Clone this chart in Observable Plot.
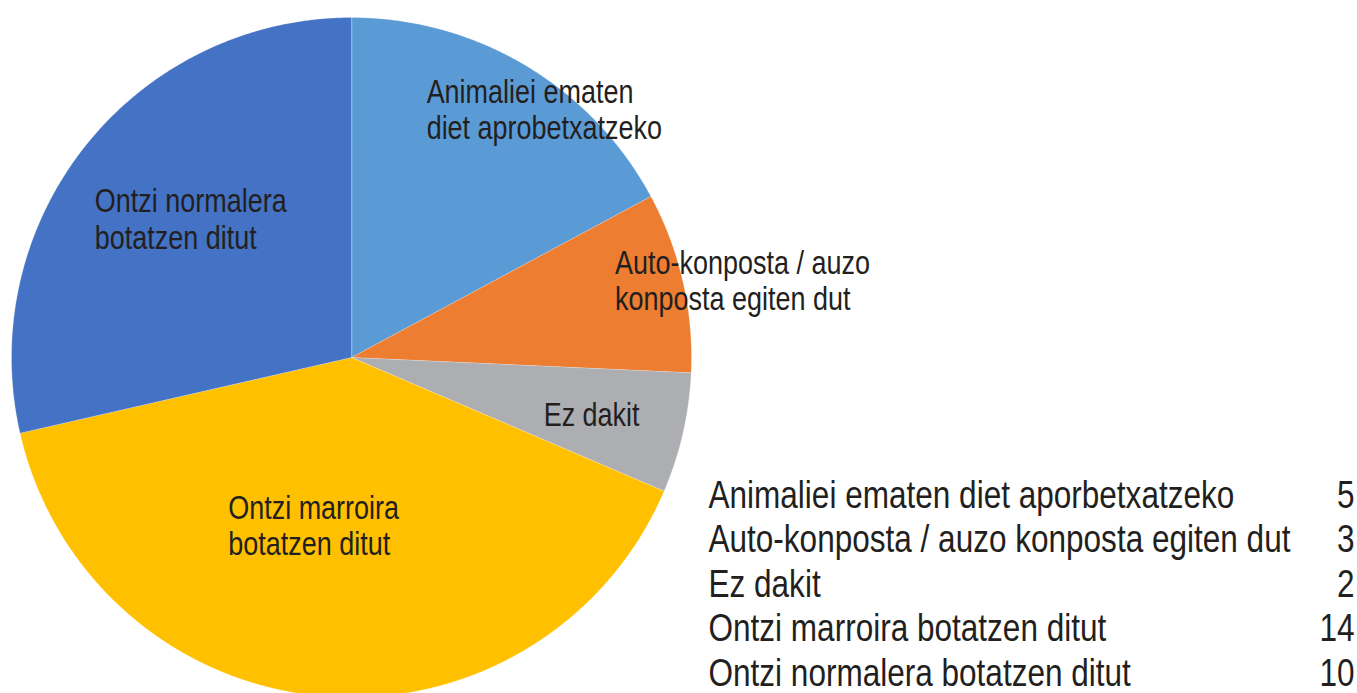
<!DOCTYPE html>
<html>
<head>
<meta charset="utf-8">
<script src="https://cdn.jsdelivr.net/npm/d3@7"></script>
<script src="https://cdn.jsdelivr.net/npm/@observablehq/plot@0.6"></script>
<style>
  html, body { margin: 0; padding: 0; background: #ffffff; overflow: hidden; }
  #chart svg { display: block; }
</style>
</head>
<body>
<div id="chart"></div>
<script>
// ---- data ----
const categories = [
  "Animaliei ematen diet aporbetxatzeko",
  "Auto-konposta / auzo konposta egiten dut",
  "Ez dakit",
  "Ontzi marroira botatzen ditut",
  "Ontzi normalera botatzen ditut"
];
// slice sizes
const values = [6, 3, 2, 14, 10];
// values as printed in the table at the bottom right
const legendValues = ["5", "3", "2", "14", "10"];
// in-slice label text (two lines where wrapped)
const sliceLabels = [
  "Animaliei ematen\ndiet aprobetxatzeko",
  "Auto-konposta / auzo\nkonposta egiten dut",
  "Ez dakit",
  "Ontzi marroira\nbotatzen ditut",
  "Ontzi normalera\nbotatzen ditut"
];
const colors = ["#5B9BD5", "#ED7D31", "#ACAEB1", "#FFC000", "#4472C4"];

// ---- layout (not data) ----
const cx = 351, cy = 357, R = 340;
// label placement: radius fraction and angular nudge (degrees) from slice mid-angle
const labelR = [0.762, 0.808, 0.589, 0.612, 0.858];
const labelNudge = [-14.0, -3.5, 3.5, 31.2, -10.2];
const legendX = 1.05, legendValueX = 2.95, legendY0 = (cy - 495) / R, legendStep = 44.6 / R;
const condense = 0.83; // horizontal squeeze to mimic a condensed face

const rows = categories.map((c, i) => ({category: c, value: values[i], label: sliceLabels[i], legend: legendValues[i], i}));
const arcs = d3.pie().sort(null).value(d => d.value)(rows);

// polygon points for each slice
const slicePts = [];
for (const a of arcs) {
  const key = a.data.category;
  slicePts.push({key, x: 0, y: 0});
  const n = Math.max(2, Math.ceil((a.endAngle - a.startAngle) / (Math.PI / 720)));
  for (let k = 0; k <= n; k++) {
    const t = a.startAngle + (a.endAngle - a.startAngle) * k / n;
    slicePts.push({key, x: Math.sin(t), y: Math.cos(t)});
  }
}

const labelPts = arcs.map((a, i) => {
  const mid = (a.startAngle + a.endAngle) / 2 + labelNudge[i] * Math.PI / 180;
  return {text: a.data.label, x: labelR[i] * Math.sin(mid), y: labelR[i] * Math.cos(mid)};
});

const legendRows = rows.map(r => ({...r, y: legendY0 - r.i * legendStep, lx: legendX, vx: legendValueX}));

const font = '"Liberation Sans", Arial, sans-serif';

const chart = Plot.plot({
  width: 1357,
  height: 693,
  margin: 0,
  x: {domain: [-1, 1], range: [cx - R, cx + R], axis: null},
  y: {domain: [-1, 1], range: [cy + R, cy - R], axis: null},
  color: {domain: categories, range: colors},
  style: {fontFamily: font, background: "#ffffff", overflow: "hidden"},
  marks: [
    Plot.line(slicePts, {x: "x", y: "y", z: "key", fill: "key", stroke: "#ffffff", strokeWidth: 0.4, strokeOpacity: 0.6, curve: "linear-closed"}),
    Plot.text(labelPts, {x: "x", y: "y", text: "text", textAnchor: "start", lineAnchor: "middle", fontSize: 32.5, lineHeight: 1.12, fill: "#231F20"}),
    Plot.text(legendRows, {x: "lx", y: "y", text: "category", textAnchor: "start", lineAnchor: "middle", fontSize: 38, fill: "#231F20"}),
    Plot.text(legendRows, {x: "vx", y: "y", text: "legend", textAnchor: "end", lineAnchor: "middle", fontSize: 38, fill: "#231F20"})
  ]
});
// squeeze every text horizontally around its anchor
chart.querySelectorAll("text").forEach(el => {
  const tr = el.getAttribute("transform") || "";
  el.setAttribute("transform", tr + ` scale(${condense},1)`);
});
document.getElementById("chart").append(chart);
</script>
</body>
</html>
